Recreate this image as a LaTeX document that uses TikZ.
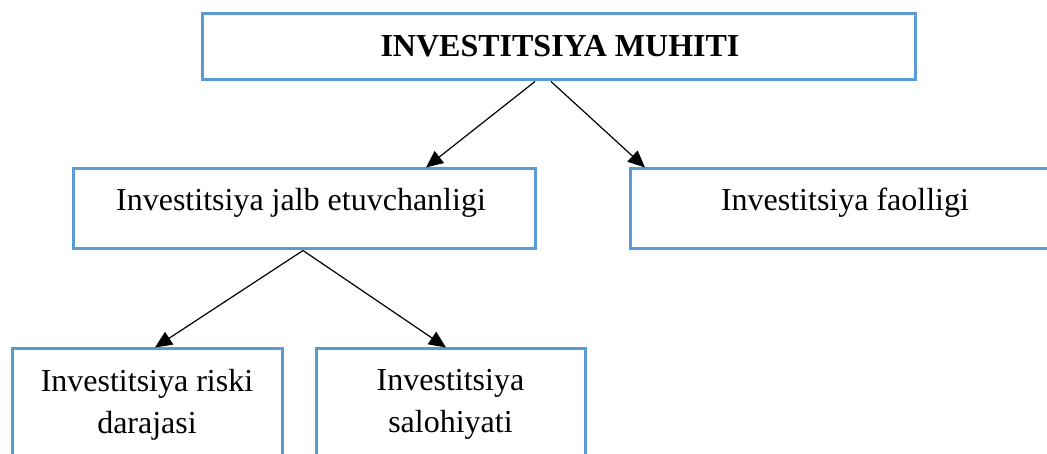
\documentclass[tikz,border=0pt]{standalone}
\usepackage{fontspec}
\setmainfont{Liberation Serif}
\usetikzlibrary{arrows.meta,calc}
\definecolor{boxblue}{HTML}{5B9BD5}
\begin{document}
\begin{tikzpicture}[x=1pt,y=-1pt,
  box/.style={draw=boxblue,line width=3pt,rectangle,inner sep=0pt},
  lbl/.style={font=\fontsize{32}{42}\selectfont,inner sep=0pt,align=center},
  conn/.style={-{Triangle[length=17pt,width=15pt]},line width=1.2pt,draw=black}]
\useasboundingbox (0,0) rectangle (1047,454);
\clip (0,0) rectangle (1047,454);
% boxes
\node[box,minimum width=713pt,minimum height=66pt] (top) at (558.5,47) {};
\node[box,minimum width=462pt,minimum height=80pt] (att) at (304,209) {};
\node[box,minimum width=430pt,minimum height=80pt] (act) at (845,209) {};
\node[box,minimum width=270pt,minimum height=130pt] (risk) at (147,414) {};
\node[box,minimum width=269pt,minimum height=130pt] (pot) at (450.5,414) {};
% texts
\node[lbl,anchor=base,font=\fontsize{32}{42}\selectfont\bfseries] (toptxt) at (560,57) {INVESTITSIYA MUHITI};
\node[lbl,anchor=base] (atttxt) at (301,211) {Investitsiya jalb etuvchanligi};
\node[lbl,anchor=base] (acttxt) at (845,211) {Investitsiya faolligi};
\node[lbl] (risktxt) at (147,404.5) {Investitsiya riski\\darajasi};
\node[lbl] (pottxt) at (450.5,404.5) {Investitsiya\\salohiyati};
% connectors
\draw[conn] ($(top.south)+(-23.5,0)$) -- ($(att.north)+(122,0)$);
\draw[conn] ($(top.south)+(-7.5,0)$) -- ($(act.north)+(-200,0)$);
\draw[conn] ($(att.south)+(-1,0)$) -- ($(risk.north)+(8,0)$);
\draw[conn] ($(att.south)+(-1,0)$) -- ($(pot.north)+(-4.5,0)$);
\end{tikzpicture}
\end{document}
